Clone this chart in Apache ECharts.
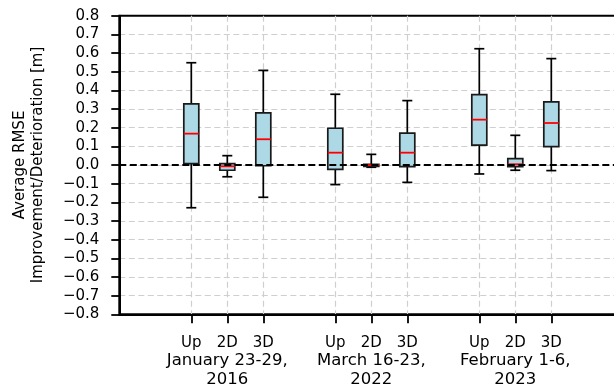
<!DOCTYPE html>
<html>
<head>
<meta charset="utf-8">
<script src="https://cdn.jsdelivr.net/npm/echarts@6/dist/echarts.min.js"></script>
<style>
    html, body { margin: 0; padding: 0; background: #fff; }
    #main { width: 614px; height: 388px; }
</style>
</head>
<body>
<div id="main"></div>
<script>
// periods and methods
var methods = ['Up', '2D', '3D'];
var periods = ['January 23-29,', 'March 16-23,', 'February 1-6,'];
var years = ['2016', '2022', '2023'];

// box stats per period: [low whisker, q1, median, q3, high whisker]
var jan2016 = [
    [-0.229, 0.007, 0.168, 0.327, 0.548],
    [-0.063, -0.028, -0.007, 0.007, 0.050],
    [-0.173, -0.004, 0.138, 0.279, 0.507]
];
var mar2022 = [
    [-0.105, -0.023, 0.066, 0.197, 0.379],
    [-0.012, -0.007, 0.000, 0.004, 0.057],
    [-0.093, -0.009, 0.066, 0.171, 0.345]
];
var feb2023 = [
    [-0.048, 0.106, 0.243, 0.377, 0.623],
    [-0.028, -0.009, 0.004, 0.034, 0.159],
    [-0.030, 0.098, 0.225, 0.338, 0.570]
];
var yTicks = [-0.8, 0.8, 0.1]; // min, max, step

var FONT = 'DejaVu Sans';
var BOX_W = 15, CAP_W = 10;

// x axis runs from -1 to 13, boxes at 1,2,3 / 5,6,7 / 9,10,11
var cats = [];
for (var i = 0; i < 15; i++) cats.push('');
var boxData = [];
[jan2016, mar2022, feb2023].forEach(function (grp, g) {
    grp.forEach(function (s, m) {
        var idx = 2 + 4 * g + m;
        cats[idx] = g + '|' + m;
        boxData.push([idx].concat(s));
    });
});

function showTick(index, value) {
    return cats[index] !== '';
}

function renderBox(params, api) {
    var x = api.value(0);
    var lo = api.coord([x, api.value(1)]);
    var q1 = api.coord([x, api.value(2)]);
    var me = api.coord([x, api.value(3)]);
    var q3 = api.coord([x, api.value(4)]);
    var hi = api.coord([x, api.value(5)]);
    var cx = lo[0];
    var line = {stroke: '#000', lineWidth: 1.7};
    return {
        type: 'group',
        children: [
            {type: 'line', shape: {x1: cx, y1: hi[1], x2: cx, y2: q3[1]}, style: line},
            {type: 'line', shape: {x1: cx, y1: q1[1], x2: cx, y2: lo[1]}, style: line},
            {type: 'line', shape: {x1: cx - CAP_W / 2, y1: hi[1], x2: cx + CAP_W / 2, y2: hi[1]}, style: line},
            {type: 'line', shape: {x1: cx - CAP_W / 2, y1: lo[1], x2: cx + CAP_W / 2, y2: lo[1]}, style: line},
            {
                type: 'rect',
                shape: {x: cx - BOX_W / 2, y: q3[1], width: BOX_W, height: q1[1] - q3[1]},
                style: {fill: '#add8e6', stroke: '#1a1a1a', lineWidth: 1.7}
            },
            {type: 'line', shape: {x1: cx - BOX_W / 2, y1: me[1], x2: cx + BOX_W / 2, y2: me[1]},
                style: {stroke: '#ff0000', lineWidth: 1.8}}
        ]
    };
}

var chart = echarts.init(document.getElementById('main'));

chart.setOption({
    animation: false,
    backgroundColor: '#fff',
    textStyle: {fontFamily: FONT},
    grid: {
        left: 119.3, top: 15.7, width: 504, height: 298.6,
        outerBoundsMode: 'none',
        containLabel: false,
        show: true, borderColor: '#000', borderWidth: 2
    },
    xAxis: {
        type: 'category',
        data: cats,
        boundaryGap: false,
        axisLine: {show: true, onZero: false, lineStyle: {color: '#000', width: 2}},
        axisTick: {show: true, interval: showTick, length: 9, lineStyle: {color: '#000', width: 1.8}},
        splitLine: {show: true, interval: showTick, lineStyle: {color: '#cfcfcf', width: 1.2, type: [6, 3.5]}},
        axisLabel: {
            interval: 0,
            hideOverlap: false,
            showMinLabel: true,
            showMaxLabel: true,
            margin: 20,
            color: '#000',
            formatter: function (value) {
                if (!value) return '';
                var p = value.split('|');
                var g = +p[0], m = +p[1];
                if (m === 1) {
                    return '{a|' + methods[m] + '}\n{d|' + periods[g] + '}\n{d|' + years[g] + '}';
                }
                return '{a|' + methods[m] + '}';
            },
            rich: {
                a: {fontSize: 15, lineHeight: 17, fontFamily: FONT, color: '#000'},
                d: {fontSize: 16.5, lineHeight: 19, fontFamily: FONT, color: '#000'}
            }
        }
    },
    yAxis: {
        type: 'value',
        min: yTicks[0],
        max: yTicks[1],
        interval: yTicks[2],
        name: 'Average RMSE\nImprovement/Deterioration [m]',
        nameLocation: 'middle',
        nameRotate: 90,
        nameGap: 72,
        nameMoveOverlap: false,
        nameTextStyle: {fontSize: 15, lineHeight: 18, color: '#000', fontFamily: FONT},
        axisLine: {show: true, onZero: false, lineStyle: {color: '#000', width: 2}},
        axisTick: {show: true, length: 8, lineStyle: {color: '#000', width: 1.8}},
        splitLine: {
            show: true, showMinLine: false, showMaxLine: false,
            lineStyle: {color: '#cfcfcf', width: 1.2, type: [6, 3.5]}
        },
        axisLabel: {
            fontSize: 15,
            margin: 20,
            color: '#000',
            formatter: function (v) {
                if (Math.abs(v) < 1e-9) return '0.0';
                var s = v.toFixed(1);
                return s.replace('-', '\u2212');
            }
        }
    },
    series: [
        {
            type: 'line',
            data: [],
            z: 1,
            silent: true,
            markLine: {
                silent: true,
                symbol: 'none',
                label: {show: false},
                lineStyle: {color: '#000', width: 2, type: [7, 3.5]},
                data: [{yAxis: 0}]
            }
        },
        {
            type: 'custom',
            z: 3,
            renderItem: renderBox,
            encode: {x: 0, y: [1, 2, 3, 4, 5]},
            data: boxData
        }
    ]
});
</script>
</body>
</html>
